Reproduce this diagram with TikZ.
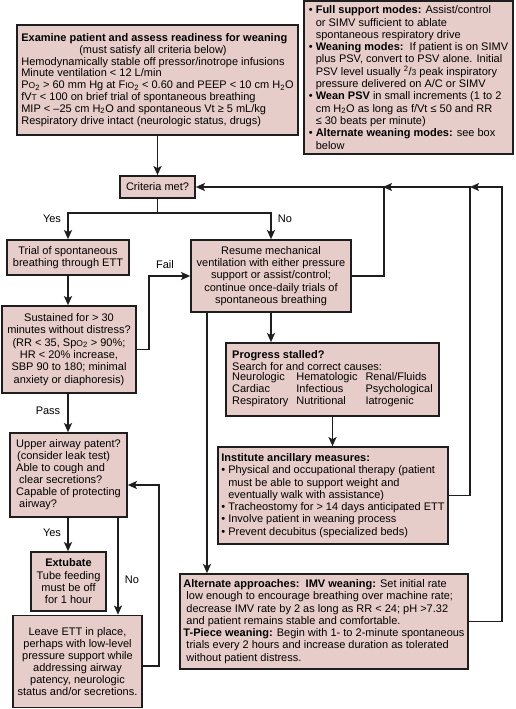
\documentclass[tikz,border=0pt]{standalone}
\usepackage{fontspec}
\setmainfont{Liberation Sans}
\usetikzlibrary{arrows.meta}
\definecolor{boxfill}{RGB}{231,205,201}
\definecolor{ink}{RGB}{30,30,30}
\newcommand\sco[1]{{\fontsize{8.5}{8.5}\selectfont #1}}
\newcommand\sub[1]{\textsubscript{#1}}
\newcommand\bul{•\ }
\newcommand\ind{\phantom{•\ }}
\begin{document}
\begin{tikzpicture}[x=1pt,y=-1pt,
  box/.style={draw=ink, line width=1.7pt, fill=boxfill, inner sep=0pt, font=\fontsize{11}{12.3}\selectfont, text=black},
  arr/.style={draw=ink, line width=1.5pt, -{Stealth[length=9pt,width=8pt,inset=2pt]}},
  lbl/.style={font=\fontsize{11}{12}\selectfont, inner sep=0pt, text=black}]
\useasboundingbox (0,0) rectangle (515,709);

% boxes
\node[box, minimum width=281pt, minimum height=110pt, align=left, font=\fontsize{11}{11.8}\selectfont] (exam) at (157.5,80)
 {\textbf{Examine patient and assess readiness for weaning}\\
  \hspace*{58pt}(must satisfy all criteria below)\\
  Hemodynamically stable off pressor/inotrope infusions\\
  Minute ventilation < 12 L/min\\
  P\sco{O}\sub{2} > 60 mm Hg at F\sco{IO}\sub{2} < 0.60 and PEEP < 10 cm H\sub{2}O\\
  fV\sco{T} < 100 on brief trial of spontaneous breathing\\
  MIP < –25 cm H\sub{2}O and spontaneous Vt ≥ 5 mL/kg\\
  Respiratory drive intact (neurologic status, drugs)};

\node[box, minimum width=209pt, minimum height=153pt, align=left] (modes) at (408.5,77.5)
 {\bul\textbf{Full support modes:} Assist/control\\
  \ind or SIMV sufficient to ablate\\
  \ind spontaneous respiratory drive\\
  \bul\textbf{Weaning modes:}\ \ If patient is on SIMV\\
  \ind plus PSV, convert to PSV alone. Initial\\
  \ind PSV level usually \textsuperscript{2}/\sco{3} peak inspiratory\\
  \ind pressure delivered on A/C or SIMV\\
  \bul\textbf{Wean PSV} in small increments (1 to 2\\
  \ind cm H\sub{2}O as long as f/Vt ≤ 50 and RR\\
  \ind ≤ 30 beats per minute)\\
  \bul\textbf{Alternate weaning modes:} see box\\
  \ind below};

\node[box, minimum width=75pt, minimum height=22pt] (crit) at (157.5,187) {Criteria met?};

\node[box, minimum width=122pt, minimum height=35pt, align=center] (trial) at (68,257.5)
 {Trial of spontaneous\\breathing through ETT};

\node[box, minimum width=160pt, minimum height=72pt, align=center] (resume) at (271,276)
 {Resume mechanical\\ventilation with either pressure\\support or assist/control;\\continue once-daily trials of\\spontaneous breathing};

\node[box, minimum width=134pt, minimum height=87pt, align=center] (sust) at (69,349.5)
 {Sustained for > 30\\minutes without distress?\\(RR < 35, Sp\sco{O}\sub{2} > 90\%;\\HR < 20\% increase,\\SBP 90 to 180; minimal\\anxiety or diaphoresis)};

\node[box, minimum width=117pt, minimum height=84pt, align=left, font=\fontsize{11}{12}\selectfont] (upper) at (68.5,475)
 {Upper airway patent?\\
  \hspace*{1pt}(consider leak test)\\
  Able to cough and\\
  \hspace*{3pt}clear secretions?\\
  Capable of protecting\\
  \hspace*{3pt}airway?};

\node[box, minimum width=75pt, minimum height=59pt, align=center] (extub) at (68.5,581.5)
 {\textbf{Extubate}\\Tube feeding\\must be off\\for 1 hour};

\node[box, minimum width=129pt, minimum height=92pt, align=center, font=\fontsize{11}{11.9}\selectfont] (leave) at (77.5,661.5)
 {Leave ETT in place,\\perhaps with low-level\\pressure support while\\addressing airway\\patency, neurologic\\status and/or secretions.};

\node[box, minimum width=213pt, minimum height=73pt, align=left] (prog) at (332.5,379.5)
 {\textbf{Progress stalled?}\\
  Search for and correct causes:\\
  \begin{tabular}{@{}l@{\hspace{8pt}}l@{\hspace{8pt}}l@{}}
  Neurologic & Hematologic & Renal/Fluids\\
  Cardiac & Infectious & Psychological\\
  Respiratory & Nutritional & Iatrogenic
  \end{tabular}};

\node[box, minimum width=230pt, minimum height=97pt, align=left] (inst) at (333,495.5)
 {\textbf{Institute ancillary measures:}\\
  \bul Physical and occupational therapy (patient\\
  \ind must be able to support weight and\\
  \ind eventually walk with assistance)\\
  \bul Tracheostomy for > 14 days anticipated ETT\\
  \bul Involve patient in weaning process\\
  \bul Prevent decubitus (specialized beds)};

\node[box, minimum width=288pt, minimum height=95pt, align=left] (alt) at (324,621.5)
 {\textbf{Alternate approaches:\ \ IMV weaning:} Set initial rate\\
  \hspace*{3pt}low enough to encourage breathing over machine rate;\\
  \hspace*{3pt}decrease IMV rate by 2 as long as RR < 24; pH >7.32\\
  \hspace*{3pt}and patient remains stable and comfortable.\\
  \textbf{T-Piece weaning:} Begin with 1- to 2-minute spontaneous\\
  \hspace*{3pt}trials every 2 hours and increase duration as tolerated\\
  \hspace*{3pt}without patient distress.};

% junction coordinates
\coordinate (split) at (157.5,213);
\coordinate (j1) at (383,187);
\coordinate (j2) at (470,187);
\coordinate (j3) at (502,187);

% connectors
\draw[arr] (exam) -- (crit);
\draw[draw=ink, line width=1.5pt] (crit) -- (split);
\draw[arr] (split) -| (trial);
\draw[arr] (split) -| (resume);
\draw[arr] (trial.south) -- (trial.south |- sust.north);
\draw[arr] (trial.south |- sust.south) -- (trial.south |- upper.north);
\draw[arr] (sust.east) -- ++(12,0) |- (resume.west);
\draw[arr] (resume.south) -- (resume.south |- prog.north);
\draw[arr] ([xshift=-64pt]resume.south) -- ([xshift=-64pt]resume.south |- alt.north);
\draw[arr] (prog.south) -- (prog.south |- inst.north);
\draw[arr] (resume.east) -- ++(32,0) |- (crit.east);
\draw[arr] (inst.east) -| (j2) -- (j1);
\draw[arr] (alt.east) -| (j3) -- (j2);
\draw[arr] (upper.south -| trial.south) -- (trial.south |- extub.north);
\draw[arr] ([xshift=49.5pt]upper.south) -- ([xshift=49.5pt]upper.south |- leave.north);
\draw[arr] ([yshift=-4.5pt]leave.east) -- ++(16,0) |- ([yshift=-10pt]upper.east);

% labels
\node[lbl] (lyes) at (52,219) {Yes};
\node[lbl] (lno) at (285,219) {No};
\node[lbl] (lfail) at (165,265) {Fail};
\node[lbl] (lpass) at (48,411) {Pass};
\node[lbl] (lyes2) at (52,533) {Yes};
\node[lbl] (lno2) at (132,580) {No};
\end{tikzpicture}
\end{document}
